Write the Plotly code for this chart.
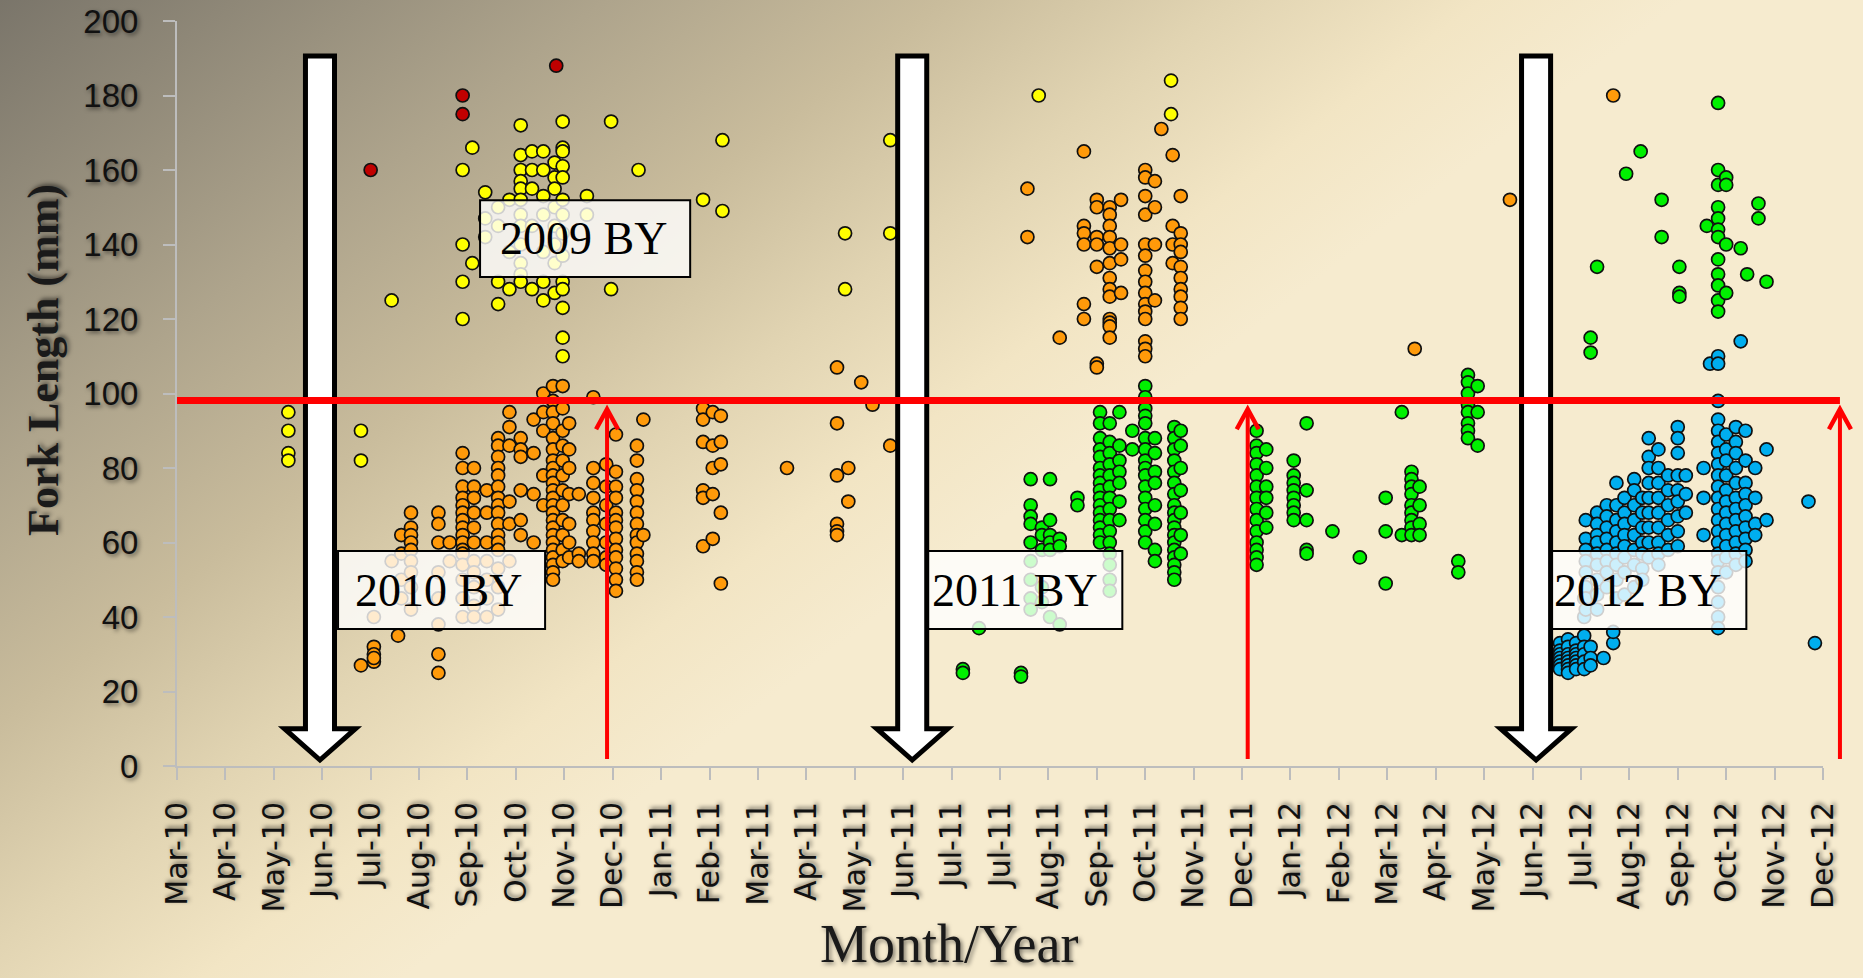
import base64
import datetime as dt
import plotly.graph_objects as go

# ---------------- canvas / layout geometry ----------------
W, H = 1863, 978
ML, MR, MT, MB = 177, 40, 21, 212
PW, PH = W - ML - MR, H - MT - MB

# ---------------- axis definitions ----------------
AXIS_START = dt.date(2010, 3, 8)
TICK_STEP_DAYS = 30
tick_labels = ["Mar-10", "Apr-10", "May-10", "Jun-10", "Jul-10", "Aug-10", "Sep-10",
               "Oct-10", "Nov-10", "Dec-10", "Jan-11", "Feb-11", "Mar-11", "Apr-11",
               "May-11", "Jun-11", "Jul-11", "Jul-11", "Aug-11", "Sep-11", "Oct-11",
               "Nov-11", "Dec-11", "Jan-12", "Feb-12", "Mar-12", "Apr-12", "May-12",
               "Jun-12", "Jul-12", "Aug-12", "Sep-12", "Oct-12", "Nov-12", "Dec-12"]
y_ticks = [0, 20, 40, 60, 80, 100, 120, 140, 160, 180, 200]
Y_MAX = 200

# ---------------- data (sampling date -> fork lengths, mm) ----------------
darkred_dates = ["2010-07-06", "2010-09-01", "2010-10-29"]
darkred_fl = [[160], [180, 175], [188]]

yellow_dates = ["2010-05-16", "2010-06-30", "2010-07-19", "2010-09-01", "2010-09-07",
                "2010-09-15", "2010-09-23", "2010-09-30", "2010-10-07", "2010-10-14",
                "2010-10-21", "2010-10-28", "2010-11-02", "2010-11-17", "2010-12-02",
                "2010-12-19", "2011-01-28", "2011-02-09", "2011-04-26", "2011-05-24",
                "2011-08-24", "2011-11-14"]
yellow_fl = [[95, 90, 84, 82], [90, 82], [125], [160, 140, 130, 120], [166, 135],
             [154, 147, 142], [130, 124, 145, 150], [128, 138, 152],
             [172, 164, 160, 157, 155, 152, 148, 145, 140, 135, 132, 130],
             [165, 160, 155, 145, 128], [165, 160, 153, 148, 138, 130, 125],
             [162, 158, 155, 150, 145, 140, 135, 127],
             [173, 166, 165, 161, 158, 152, 148, 143, 137, 130, 128, 123, 115, 110],
             [153, 148], [173, 128], [160], [152], [168, 149], [143, 128], [168, 143],
             [180], [184, 175]]

orange_dates = ["2010-06-30", "2010-07-08", "2010-07-19", "2010-07-23", "2010-07-25",
                "2010-07-31", "2010-08-17", "2010-08-24", "2010-09-01", "2010-09-08",
                "2010-09-16", "2010-09-23", "2010-09-30", "2010-10-07", "2010-10-15",
                "2010-10-21", "2010-10-27", "2010-11-02", "2010-11-06", "2010-11-12",
                "2010-11-21", "2010-11-29", "2010-12-05", "2010-12-18", "2010-12-22",
                "2011-01-28", "2011-02-03", "2011-02-08", "2011-03-21", "2011-04-21",
                "2011-04-28", "2011-05-06", "2011-05-13", "2011-05-24",
                "2011-08-17", "2011-09-06", "2011-09-21", "2011-09-29", "2011-10-07",
                "2011-10-14", "2011-10-29", "2011-11-04", "2011-11-08", "2011-11-15",
                "2011-11-20", "2012-04-13", "2012-06-11", "2012-08-14"]
orange_fl = [[27], [32, 30, 28, 29, 40], [55], [35], [62, 57, 50, 45],
             [68, 64, 62, 60, 58, 55, 52, 48, 42], [68, 65, 60, 52, 45, 38, 30, 25], [60, 55],
             [84, 80, 75, 72, 70, 68, 66, 64, 62, 60, 58, 57, 54, 50, 45, 40],
             [80, 75, 72, 68, 64, 60, 55, 52, 48, 43, 40], [74, 68, 60, 55, 50, 45, 40],
             [88, 86, 83, 80, 78, 75, 72, 70, 68, 65, 62, 60, 58, 53, 48, 42],
             [95, 91, 86, 71, 65, 55], [88, 85, 83, 74, 66, 62], [93, 84, 73, 60],
             [100, 95, 90, 78, 70],
             [102, 98, 95, 92, 88, 85, 82, 80, 78, 76, 74, 72, 70, 68, 66, 64, 62, 60, 58, 56, 54, 52, 50],
             [102, 96, 90, 86, 82, 78, 74, 70, 66, 62, 58, 55], [92, 85, 80, 73, 65, 60, 56],
             [73, 57, 55], [99, 80, 76, 72, 68, 66, 63, 60, 57, 55], [81, 75, 70, 65, 60, 56, 54],
             [89, 79, 75, 72, 68, 66, 64, 61, 58, 56, 53, 50, 47],
             [86, 82, 77, 74, 71, 68, 65, 62, 60, 57, 55, 52, 50], [93, 62],
             [96, 93, 87, 74, 72, 59], [95, 86, 80, 73, 61], [94, 87, 81, 68, 49], [80],
             [107, 92, 78, 65, 63, 62], [80, 71], [103], [97], [86],
             [155, 142], [115], [165, 145, 143, 140, 124, 120], [152, 150, 142, 140, 134, 108, 107],
             [150, 148, 145, 142, 139, 135, 131, 128, 126, 120, 119, 118, 115], [152, 140, 136, 127],
             [160, 158, 153, 148, 140, 137, 133, 130, 127, 124, 122, 120, 114, 112, 110],
             [157, 150, 140, 125], [171], [164, 145, 140, 135],
             [153, 143, 140, 138, 134, 131, 128, 126, 123, 120], [112], [152], [180]]

green_dates = ["2011-07-08", "2011-07-18", "2011-08-13", "2011-08-19", "2011-08-26",
               "2011-08-31", "2011-09-06", "2011-09-17", "2011-10-01", "2011-10-07",
               "2011-10-13", "2011-10-21", "2011-10-29", "2011-11-04", "2011-11-16",
               "2011-11-20", "2012-01-06", "2012-01-12", "2012-01-29", "2012-02-06",
               "2012-02-22", "2012-03-10", "2012-03-26", "2012-04-05", "2012-04-11",
               "2012-04-16", "2012-05-10", "2012-05-16", "2012-05-22", "2012-07-31",
               "2012-08-04", "2012-08-22", "2012-08-31", "2012-09-13", "2012-09-24",
               "2012-10-11", "2012-10-18", "2012-10-23", "2012-11-01", "2012-11-05",
               "2012-11-12", "2012-11-17"]
green_fl = [[26, 25], [37], [25, 24], [77, 70, 67, 65, 60, 55, 50, 45, 42], [64, 62, 58, 48, 44],
            [77, 66, 62, 60, 58, 40], [61, 59, 38], [72, 70],
            [95, 92, 88, 85, 83, 80, 78, 76, 74, 72, 70, 68, 66, 64, 62, 60],
            [92, 87, 84, 81, 78, 75, 72, 69, 66, 63, 60, 57, 54, 50, 47],
            [95, 86, 82, 79, 76, 71, 66], [90, 85],
            [102, 99, 96, 94, 92, 88, 85, 82, 80, 78, 75, 72, 69, 66, 63, 60],
            [88, 84, 79, 76, 70, 65, 58, 55],
            [91, 88, 85, 82, 79, 76, 73, 70, 68, 66, 64, 62, 60, 58, 56, 54, 52, 50],
            [90, 86, 80, 74, 68, 62, 57],
            [90, 86, 84, 81, 78, 75, 72, 69, 66, 63, 60, 58, 56, 54],
            [85, 80, 75, 72, 68, 64], [82, 78, 76, 74, 72, 70, 68, 66], [92, 74, 66, 58, 57],
            [63], [56], [72, 63, 49], [95, 62], [79, 77, 75, 73, 70, 68, 66, 64, 62],
            [75, 70, 65, 62], [55, 52], [105, 103, 100, 97, 95, 92, 90, 88], [102, 95, 86],
            [115, 111], [134], [159], [165], [152, 142], [134, 127, 126], [145],
            [178, 160, 156, 150, 147, 144, 142, 136, 132, 129, 125, 122], [158, 156, 140, 127],
            [139], [132], [151, 147], [130]]

blue_dates = ["2012-07-12", "2012-07-17", "2012-07-22", "2012-07-27", "2012-07-28",
              "2012-07-31", "2012-08-04", "2012-08-08", "2012-08-10", "2012-08-14",
              "2012-08-16", "2012-08-21", "2012-08-27", "2012-09-01", "2012-09-05",
              "2012-09-11", "2012-09-17", "2012-09-23", "2012-09-28", "2012-10-09",
              "2012-10-13", "2012-10-18", "2012-10-23", "2012-10-29", "2012-11-01",
              "2012-11-04", "2012-11-10", "2012-11-17", "2012-12-13", "2012-12-17"]
blue_fl = [[33, 31, 30, 29, 28, 27, 26], [34, 32, 30, 29, 28, 27, 26, 25],
           [33, 31, 30, 29, 28, 27, 26], [35, 32, 30, 28, 26, 40, 45],
           [66, 61, 58, 55, 52, 48, 45, 42], [32, 29, 27],
           [68, 65, 62, 60, 57, 54, 50, 46, 42], [29], [70, 67, 64, 61, 58, 55, 52, 48],
           [33, 36], [76, 70, 66, 63, 60, 57, 54, 50, 45], [72, 68, 65, 62, 59, 56, 52, 46],
           [77, 74, 70, 66, 62, 58, 54, 48], [72, 68, 64, 60, 57, 53, 50],
           [88, 83, 80, 76, 72, 68, 64, 60, 56], [85, 80, 76, 72, 68, 64, 60, 57, 54],
           [78, 74, 70, 66, 62, 58], [91, 88, 84, 78, 74, 71, 67, 63, 59], [78, 73, 68],
           [80, 72, 62], [108],
           [110, 108, 98, 93, 90, 87, 84, 81, 78, 75, 72, 69, 66, 63, 60, 57, 55, 52, 48, 44, 40, 37],
           [89, 85, 82, 78, 74, 71, 68, 65, 62, 59, 56, 52],
           [91, 87, 84, 80, 76, 72, 69, 66, 63, 60, 57, 54], [114],
           [90, 82, 76, 73, 70, 67, 64, 61, 58, 55], [80, 72, 65, 62], [85, 66], [71], [33]]

series = [
    ("darkred", darkred_dates, darkred_fl, "#C00000"),
    ("2009 BY", yellow_dates, yellow_fl, "#FFFF00"),
    ("2010 BY", orange_dates, orange_fl, "#FF9A0A"),
    ("2011 BY", green_dates, green_fl, "#00F000"),
    ("2012 BY", blue_dates, blue_fl, "#00AEEF"),
]

# ---------------- figure ----------------
fig = go.Figure()
for name, dates, fls, color in series:
    xs, ys = [], []
    for d, vals in zip(dates, fls):
        for v in vals:
            xs.append(d)
            ys.append(v)
    fig.add_trace(go.Scatter(
        x=xs, y=ys, mode="markers", name=name,
        marker=dict(size=13, color=color, line=dict(color="#101010", width=1.7)),
        hoverinfo="x+y"))

n_ticks = len(tick_labels)
tick_vals = [(AXIS_START + dt.timedelta(days=TICK_STEP_DAYS * k)).isoformat() for k in range(n_ticks)]
SPAN = TICK_STEP_DAYS * (n_ticks - 1)
x_range = [AXIS_START.isoformat(), (AXIS_START + dt.timedelta(days=SPAN)).isoformat()]


def PX(day):  # data day offset -> paper x
    return day / SPAN


def PY(mm):  # data mm -> paper y
    return mm / Y_MAX


# background gradient (as an svg image covering the whole canvas)
svg = (f'<svg xmlns="http://www.w3.org/2000/svg" width="{W}" height="{H}" '
       f'viewBox="0 0 {W} {H}" preserveAspectRatio="none">'
       '<defs><linearGradient id="g" x1="0" y1="0" x2="0.614" y2="0.422">'
       '<stop offset="0" stop-color="#7a756a"/>'
       '<stop offset="0.36" stop-color="#aea48c"/>'
       '<stop offset="0.56" stop-color="#c9bc9c"/>'
       '<stop offset="0.73" stop-color="#e1d4b2"/>'
       '<stop offset="0.88" stop-color="#f2e5c4"/>'
       '<stop offset="1" stop-color="#f6ebcf"/>'
       '</linearGradient></defs>'
       f'<rect x="0" y="0" width="{W}" height="{H}" fill="url(#g)"/></svg>')
bg_src = "data:image/svg+xml;base64," + base64.b64encode(svg.encode()).decode()

shapes = []
annotations = []

# label boxes (semi-transparent white)
boxes = [  # (day0, day1, mm0, mm1, text, text_day, text_mm)
    (187.8, 318.0, 131.3, 151.9, "2009 BY", 251.7, 141.6),
    (99.8, 228.1, 36.8, 57.7, "2010 BY", 162.2, 47.2),
    (453.0, 585.8, 36.8, 57.7, "2011 BY", 519.4, 47.2),
    (837.4, 972.5, 36.8, 57.7, "2012 BY", 905.0, 47.2),
]
for d0, d1, m0, m1, txt, td, tm in boxes:
    shapes.append(dict(type="rect", xref="paper", yref="paper", layer="above",
                       x0=PX(d0), x1=PX(d1), y0=PY(m0), y1=PY(m1),
                       fillcolor="rgba(255,255,255,0.80)",
                       line=dict(color="#000000", width=2)))
    annotations.append(dict(xref="paper", yref="paper", x=PX(td), y=PY(tm),
                            text=txt, showarrow=False, xanchor="center", yanchor="middle",
                            font=dict(family="Liberation Serif", size=46, color="#000000")))

# big white block arrows (downwards)
arrow_centers = [88.6, 455.6, 842.2]
for cx in arrow_centers:
    shw, hhw, top, hb, tip = 9.0, 22.0, 190.6, 10.0, 1.6
    pts = [(cx - shw, top), (cx + shw, top), (cx + shw, hb), (cx + hhw, hb),
           (cx, tip), (cx - hhw, hb), (cx - shw, hb)]
    path = "M " + " L ".join(f"{PX(x):.5f},{PY(y):.5f}" for x, y in pts) + " Z"
    shapes.append(dict(type="path", xref="paper", yref="paper", layer="above", path=path,
                       fillcolor="#FFFFFF", line=dict(color="#000000", width=5)))

# red horizontal threshold line
shapes.append(dict(type="line", xref="paper", yref="paper", layer="above",
                   x0=PX(0), x1=PX(1030.5), y0=PY(98.1), y1=PY(98.1),
                   line=dict(color="#FF0000", width=7)))

# red thin up arrows
for d in [266.5, 663.5, 1030.5]:
    shapes.append(dict(type="line", xref="paper", yref="paper", layer="above",
                       x0=PX(d), x1=PX(d), y0=PY(1.9), y1=PY(95.6),
                       line=dict(color="#FF0000", width=4)))
    p = (f"M {PX(d - 6.8):.5f},{PY(90.4):.5f} L {PX(d):.5f},{PY(95.8):.5f} "
         f"L {PX(d + 6.8):.5f},{PY(90.4):.5f}")
    shapes.append(dict(type="path", xref="paper", yref="paper", layer="above", path=p,
                       line=dict(color="#FF0000", width=4.5)))

shadow = "2px 2px 4px rgba(0,0,0,0.5)"
annotations.append(dict(xref="paper", yref="paper", x=(43 - ML) / PW, y=(H - MB - 360) / PH,
                        text="<b>Fork Length (mm)</b>", textangle=-90, showarrow=False,
                        xanchor="center", yanchor="middle",
                        font=dict(family="Liberation Serif", size=44, color="#1a1a1a",
                                  shadow=shadow)))
annotations.append(dict(xref="paper", yref="paper", x=(949 - ML) / PW, y=(H - MB - 944) / PH,
                        text="Month/Year", showarrow=False, xanchor="center", yanchor="middle",
                        font=dict(family="Liberation Serif", size=54, color="#1a1a1a",
                                  shadow=shadow)))

fig.update_layout(
    width=W, height=H,
    margin=dict(l=ML, r=MR, t=MT, b=MB, pad=0, autoexpand=False),
    paper_bgcolor="#f5ebcf", plot_bgcolor="rgba(0,0,0,0)",
    showlegend=False,
    images=[dict(source=bg_src, xref="paper", yref="paper",
                 x=-ML / PW, y=1 + MT / PH, sizex=W / PW, sizey=H / PH,
                 xanchor="left", yanchor="top", sizing="stretch", layer="below")],
    shapes=shapes,
    annotations=annotations,
    xaxis=dict(type="date", range=x_range, tickmode="array", tickvals=tick_vals,
               ticktext=tick_labels, tickangle=-90, ticks="outside", ticklen=12,
               tickwidth=1.5, tickcolor="#bdbdbd", showline=True, linecolor="#bdbdbd",
               linewidth=2, showgrid=False, zeroline=False, automargin=False,
               ticklabelstandoff=10,
               tickfont=dict(family="DejaVu Sans", size=30, color="#111111", shadow=shadow)),
    yaxis=dict(range=[0, Y_MAX], tickmode="array", tickvals=y_ticks,
               ticks="outside", ticklen=12, tickwidth=1.5, tickcolor="#bdbdbd",
               showline=True, linecolor="#bdbdbd", linewidth=2, showgrid=False,
               zeroline=False, automargin=False, ticklabelstandoff=18,
               tickfont=dict(family="Liberation Sans", size=33, color="#111111", shadow=shadow)),
)

fig.write_html("out.html", config={"displayModeBar": False},
               post_script="document.body.style.margin='0';document.body.style.overflow='hidden';")
